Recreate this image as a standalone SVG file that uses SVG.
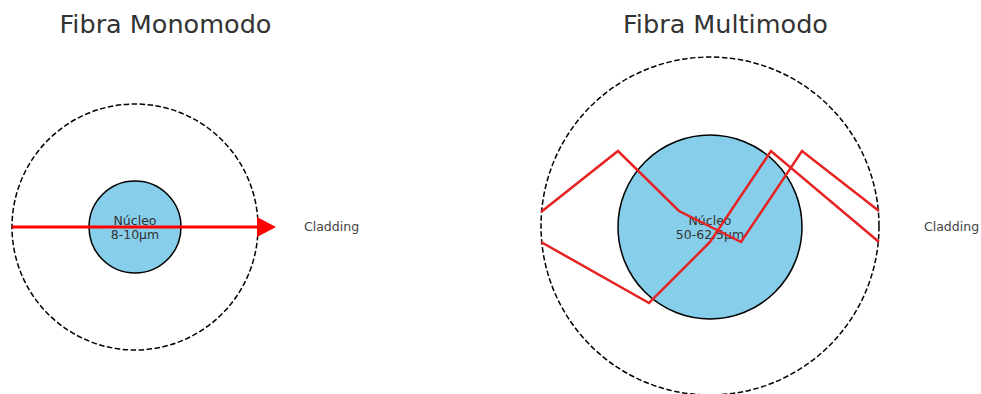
<svg xmlns="http://www.w3.org/2000/svg" width="981" height="394" viewBox="0 0 981 394">
<style>
.title{font-family:"DejaVu Sans",sans-serif;font-size:25.5px;fill:#333;text-anchor:middle}
.lbl{font-family:"DejaVu Sans",sans-serif;font-size:12.5px;fill:#333;text-anchor:middle}
.clad{font-family:"DejaVu Sans",sans-serif;font-size:12.5px;fill:#444}
.outer{fill:none;stroke:#000;stroke-width:1.5;stroke-dasharray:5.5 2.5}
.core{fill:#87ceeb;stroke:#000;stroke-width:1.5}
.ray{fill:none;stroke:#e62222;stroke-width:2.5;stroke-linejoin:miter}
</style>
<rect width="981" height="394" fill="#fff"/>
<text class="title" x="165.5" y="33">Fibra Monomodo</text>
<text class="title" x="725.5" y="33">Fibra Multimodo</text>
<g id="mono-cladding"><circle class="outer" cx="135" cy="227" r="123"/><text class="clad" x="304" y="231">Cladding</text></g>
<g id="mono-core"><circle class="core" cx="135" cy="227" r="46"/><text class="lbl" x="135" y="225">Núcleo</text><text class="lbl" x="135" y="239">8-10µm</text></g>
<g id="multi-cladding"><circle class="outer" cx="710" cy="226" r="169"/><text class="clad" x="924" y="231">Cladding</text></g>
<g id="multi-core"><circle class="core" cx="710" cy="227" r="92"/><text class="lbl" x="710" y="225">Núcleo</text><text class="lbl" x="710" y="239">50-62.5µm</text></g>
<g id="connectors">
<line x1="12" y1="227" x2="259" y2="227" stroke="#ff0000" stroke-width="3"/>
<polygon points="257,217 276,227 257,237" fill="#ff0000"/>
<polyline class="ray" points="541,212 618,151 679,211 741,242 802,151 879,211"/>
<polyline class="ray" points="541,242 649,303 710,242 771,151 879,242"/>
</g>
</svg>
